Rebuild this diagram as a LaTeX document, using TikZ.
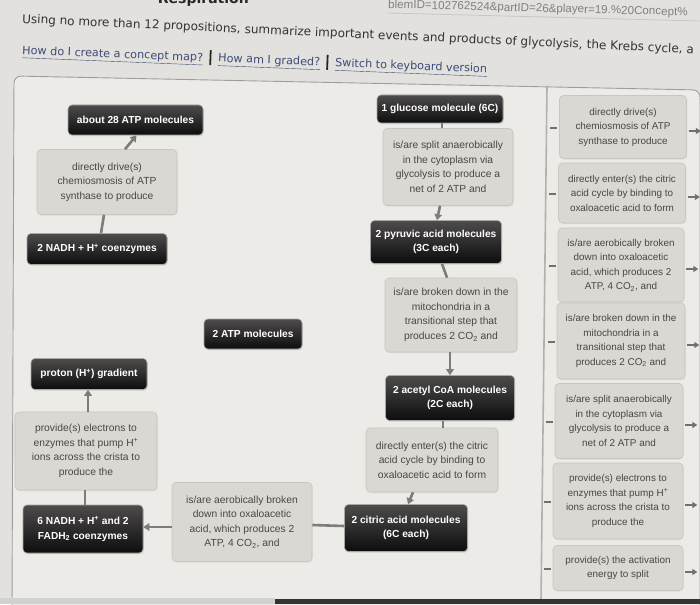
\documentclass[tikz,border=0pt]{standalone}
\usepackage{fontspec}
\setmainfont{Liberation Sans}
\newfontfamily\hdrfont{DejaVu Sans}
\usetikzlibrary{arrows.meta,shadows}
\definecolor{pagebg}{HTML}{E2E1DD}
\definecolor{canvasbg}{HTML}{ECEBE8}
\definecolor{boxfill}{HTML}{DAD8D3}
\definecolor{boxline}{HTML}{C8C6C1}
\definecolor{boxtext}{HTML}{474745}
\definecolor{darktop}{HTML}{4E4B4B}
\definecolor{darkbot}{HTML}{0D0D0D}
\definecolor{conn}{HTML}{7C7C7A}
\definecolor{linkcol}{HTML}{3E4C78}
\definecolor{hdrtext}{HTML}{333331}
\definecolor{framecol}{HTML}{9E9D9A}
\begin{document}
\begin{tikzpicture}[x=1pt,y=-1pt,
  concept/.style={rounded corners=4pt, draw=gray!70, line width=0.6pt,
    top color=darktop, bottom color=darkbot, text=white,
    font=\fontsize{10.2}{14.5}\selectfont\bfseries, align=center, inner sep=2pt,
    drop shadow={shadow xshift=0.8pt, shadow yshift=-1.2pt, opacity=0.25}},
  linkbox/.style={rounded corners=4pt, draw=boxline, line width=0.6pt, fill=boxfill,
    text=boxtext, font=\fontsize{10.3}{14.5}\selectfont, align=center, inner sep=2pt,
    drop shadow={shadow xshift=0.6pt, shadow yshift=-1pt, opacity=0.15}},
  palbox/.style={linkbox, font=\fontsize{9.9}{14.5}\selectfont},
  conline/.style={draw=conn, line width=2.6pt},
  conarrow/.style={conline, -{Triangle[length=6pt,width=7.5pt]}},
  palmark/.style={draw=conn!90!black, line width=2.6pt},
  palarrow/.style={draw=conn!90!black, line width=1.6pt, -{Triangle[length=5pt,width=6pt]}},
  instrtext/.style={anchor=base west, rotate=-2.6, font=\hdrfont\fontsize{12}{14}\selectfont, text=hdrtext, inner sep=0},
  linktext/.style={anchor=base west, rotate=-2.3, font=\hdrfont\fontsize{11.2}{13}\selectfont, text=linkcol, inner sep=0}
]
\path[use as bounding box] (0,0) rectangle (700,604);
\clip (0,0) rectangle (700,604);
\fill[pagebg] (0,0) rectangle (700,604);

% header
\node[anchor=base east, font=\hdrfont\bfseries\fontsize{14}{16}\selectfont, text=black!85, inner sep=0] (title) at (249,3.5) {Respiration};
\node[anchor=base west, rotate=-1.5, font=\fontsize{11.6}{13}\selectfont, text=gray, inner sep=0] (url) at (388,8) {blemID=102762524\&partID=26\&player=19.\%20Concept\%};
\draw[gray!45, line width=0.8pt] (388,13) -- (700,21);
\node[instrtext] (i1) at (22,23) {Using no more than 12 propositions,};
\node[instrtext] (i2) at (i1.base east) {\ summarize important events};
\node[instrtext] (i3) at (i2.base east) {\ and products of glycolysis,};
\node[instrtext] (i4) at (i3.base east) {\ the Krebs cycle, a};
\node[linktext] (l1) at (22,54) {\underline{How do I create a concept map?}};
\node[linktext] (l2) at (l1.base east) {\hspace{6pt}{\color{black!85}\rule[-3.5pt]{1.8pt}{15pt}}\hspace{7pt}\underline{How am I graded?}};
\node[linktext] (l3) at (l2.base east) {\hspace{6pt}{\color{black!85}\rule[-3.5pt]{1.8pt}{15pt}}\hspace{7pt}\underline{Switch to keyboard version}};

% canvas frame
\draw[draw=framecol, fill=canvasbg, line width=0.9pt, rounded corners=7pt]
  (12,610) -- (14,76) -- (700,90) -- (700,610);
\draw[draw=framecol!80, line width=1.6pt] (547,86) -- (541,600);
\fill[black!18] (0,598) rectangle (275,604);
\fill[black!80] (275,599) rectangle (700,604);

% concept nodes
\node[concept, minimum width=135pt, minimum height=30pt] (N1) at (135.5,120) {about 28 ATP molecules};
\node[concept, minimum width=126pt, minimum height=28pt] (N2) at (440,109) {1 glucose molecule (6C)};
\node[concept, minimum width=140pt, minimum height=31pt] (N3) at (97,249) {2 NADH + H\textsuperscript{+} coenzymes};
\node[concept, minimum width=131pt, minimum height=43pt] (N4) at (436,242) {2 pyruvic acid molecules\\(3C each)};
\node[concept, minimum width=98pt, minimum height=30pt] (N5) at (253,334) {2 ATP molecules};
\node[concept, minimum width=116pt, minimum height=31pt] (N6) at (89,374) {proton (H\textsuperscript{+}) gradient};
\node[concept, minimum width=129pt, minimum height=45pt] (N7) at (450,398) {2 acetyl CoA molecules\\(2C each)};
\node[concept, minimum width=120pt, minimum height=48pt] (N8) at (83,529) {6 NADH + H\textsuperscript{+} and 2\\FADH\textsubscript{2} coenzymes};
\node[concept, minimum width=123pt, minimum height=47pt] (N9) at (406,528) {2 citric acid molecules\\(6C each)};

% linking phrases on the canvas
\node[linkbox, minimum width=140pt, minimum height=65pt] (A) at (107,182) {directly drive(s)\\chemiosmosis of ATP\\synthase to produce};
\node[linkbox, minimum width=130pt, minimum height=77pt] (B) at (448,167) {is/are split anaerobically\\in the cytoplasm via\\glycolysis to produce a\\net of 2 ATP and};
\node[linkbox, minimum width=132pt, minimum height=74pt] (C) at (451,315) {is/are broken down in the\\mitochondria in a\\transitional step that\\produces 2 CO\textsubscript{2} and};
\node[linkbox, minimum width=142pt, minimum height=78pt] (D) at (86,451) {provide(s) electrons to\\enzymes that pump H\textsuperscript{+}\\ions across the crista to\\produce the};
\node[linkbox, minimum width=132pt, minimum height=64pt] (E) at (432,460) {directly enter(s) the citric\\acid cycle by binding to\\oxaloacetic acid to form};
\node[linkbox, minimum width=140pt, minimum height=79pt] (F) at (242,522) {is/are aerobically broken\\down into oxaloacetic\\acid, which produces 2\\ATP, 4 CO\textsubscript{2}, and};

% connectors
\draw[conline] ([xshift=4pt]N3.north) -- ([xshift=-3pt]A.south);
\draw[conarrow] ([xshift=18pt]A.north) -- ([xshift=1pt]N1.south);
\draw[conline] ([xshift=2pt]N2.south) -- ([xshift=-6pt]B.north);
\draw[conarrow] ([xshift=-8pt]B.south) -- ([xshift=1pt]N4.north);
\draw[conline] ([xshift=6pt]N4.south) -- ([xshift=-4pt]C.north);
\draw[conarrow] ([xshift=-1pt]C.south) -- (N7.north);
\draw[conline] ([xshift=-7pt]N7.south) -- ([xshift=11pt]E.north);
\draw[conarrow] ([xshift=-19pt]E.south) -- ([xshift=2pt]N9.north);
\draw[conline] ([yshift=2pt]N9.west) -- ([yshift=-3pt]F.east);
\draw[conarrow] ([yshift=-5pt]F.west) -- ([yshift=2pt]N8.east);
\draw[conline] ([xshift=2pt]N8.north) -- ([xshift=-1pt]D.south);
\draw[conarrow] ([xshift=2pt]D.north) -- ([xshift=-1pt]N6.south);

% palette
\node[palbox, minimum width=127pt, minimum height=63pt] (P1) at (623,127) {directly drive(s)\\chemiosmosis of ATP\\synthase to produce};
\node[palbox, minimum width=127pt, minimum height=60pt] (P2) at (622,193) {directly enter(s) the citric\\acid cycle by binding to\\oxaloacetic acid to form};
\node[palbox, minimum width=126pt, minimum height=74pt] (P3) at (621,265) {is/are aerobically broken\\down into oxaloacetic\\acid, which produces 2\\ATP, 4 CO\textsubscript{2}, and};
\node[palbox, minimum width=128pt, minimum height=76pt] (P4) at (621,341) {is/are broken down in the\\mitochondria in a\\transitional step that\\produces 2 CO\textsubscript{2} and};
\node[palbox, minimum width=128pt, minimum height=75pt] (P5) at (619,421) {is/are split anaerobically\\in the cytoplasm via\\glycolysis to produce a\\net of 2 ATP and};
\node[palbox, minimum width=130pt, minimum height=76pt] (P6) at (618,501) {provide(s) electrons to\\enzymes that pump H\textsuperscript{+}\\ions across the crista to\\produce the};
\node[palbox, minimum width=130pt, minimum height=45pt] (P7) at (618,568) {provide(s) the activation\\energy to split};

\foreach \p in {P1,P2,P3,P4,P5,P6,P7}{
  \draw[palmark] ([xshift=-9pt,yshift=-1pt]\p.west) -- ([xshift=-2pt,yshift=-1pt]\p.west);
  \draw[palarrow] ([xshift=2pt,yshift=-4pt]\p.east) -- ([xshift=14pt,yshift=-4pt]\p.east);
}
\end{tikzpicture}
\end{document}
